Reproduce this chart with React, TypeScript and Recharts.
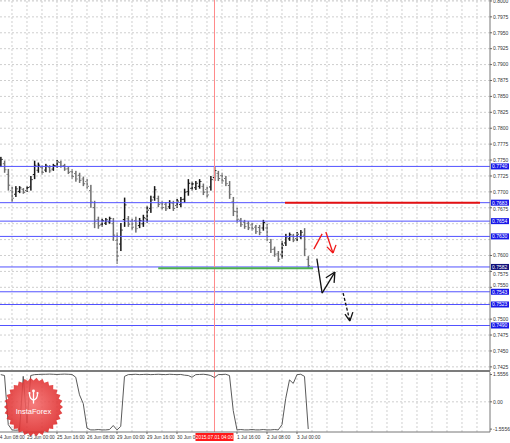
import React from 'react';
import { ComposedChart, Bar, Line, XAxis, YAxis, CartesianGrid, ReferenceLine } from 'recharts';

// H2 bars, 24 Jun 10:00 .. 3 Jul 06:00 (index 0..82)
const highs = [
  0.7755, 0.7749, 0.7736, 0.7708, 0.7709, 0.7709, 0.7706, 0.7709, 0.7725, 0.7749,
  0.7746, 0.7742, 0.7744, 0.7742, 0.7744, 0.7750, 0.7749, 0.7744, 0.7739, 0.7736,
  0.7733, 0.7730, 0.7724, 0.7720, 0.7711, 0.7686, 0.7661, 0.7658, 0.7659, 0.7661,
  0.7659, 0.7636, 0.7651, 0.7691, 0.7662, 0.7658, 0.7661, 0.7659, 0.7664, 0.7678,
  0.7694, 0.7709, 0.7694, 0.7686, 0.7684, 0.7687, 0.7686, 0.7689, 0.7692, 0.7705,
  0.7720, 0.7716, 0.7717, 0.7720, 0.7713, 0.7708, 0.7725, 0.7739, 0.7733, 0.7730,
  0.7725, 0.7717, 0.7692, 0.7675, 0.7659, 0.7656, 0.7654, 0.7651, 0.7648, 0.7648,
  0.7656, 0.7650, 0.7626, 0.7614, 0.7607, 0.7623, 0.7634, 0.7636, 0.7634, 0.7637,
  0.7640, 0.7643, 0.7599,
];
const lows = [
  0.7739, 0.7730, 0.7702, 0.7684, 0.7692, 0.7698, 0.7697, 0.7700, 0.7702, 0.7720,
  0.7730, 0.7727, 0.7731, 0.7730, 0.7733, 0.7738, 0.7738, 0.7733, 0.7728, 0.7720,
  0.7716, 0.7714, 0.7709, 0.7705, 0.7675, 0.7643, 0.7642, 0.7645, 0.7648, 0.7650,
  0.7623, 0.7587, 0.7607, 0.7645, 0.7645, 0.7640, 0.7636, 0.7643, 0.7645, 0.7651,
  0.7667, 0.7686, 0.7676, 0.7672, 0.7670, 0.7673, 0.7670, 0.7675, 0.7676, 0.7683,
  0.7694, 0.7702, 0.7703, 0.7705, 0.7695, 0.7691, 0.7702, 0.7717, 0.7717, 0.7713,
  0.7709, 0.7689, 0.7662, 0.7651, 0.7645, 0.7642, 0.7640, 0.7639, 0.7634, 0.7632,
  0.7639, 0.7623, 0.7604, 0.7598, 0.7590, 0.7595, 0.7615, 0.7623, 0.7621, 0.7623,
  0.7626, 0.7599, 0.7579,
];
const oscillator = [
  1.55, 1.5, -1.3, -1.6, -1.62, -1.6, 1.45, -1.2, 1.5, 1.55,
  1.56, 1.57, 1.57, 1.58, 1.57, 1.56, 1.57, 1.58, 1.57, 1.56,
  1.4, 0.4, -0.1, -1.5, -1.6, -1.6, -1.58, -1.6, -1.6, -1.58,
  -1.35, -1.6, -1.4, 1.45, 1.55, 1.56, 1.57, 1.55, 1.56, 1.57,
  1.55, 1.56, 1.57, 1.56, 1.55, 1.57, 1.56, 1.55, 1.56, 1.52,
  1.5, 1.4, 1.55, 1.56, 1.57, 1.55, 1.5, 1.38, 1.55, 1.56,
  1.57, 1.5, -0.5, -1.6, -1.58, -1.6, -1.6, -1.58, -1.6, -1.6,
  -1.58, -1.6, -1.6, -1.58, -1.6, -1.3, 0.2, 1.25, 1.05, 1.55,
  1.57, 1.45, -1.55,
];

const priceTicks = [
  0.8, 0.7975, 0.795, 0.7925, 0.79, 0.7875, 0.785, 0.7825, 0.78, 0.7775, 0.775, 0.7725,
  0.77, 0.7675, 0.765, 0.7625, 0.76, 0.7575, 0.755, 0.7525, 0.75, 0.7475, 0.745, 0.7425,
];
const hiddenPriceLabels = ['0.7650', '0.7625', '0.7525'];
// small nudges MT4 applies so labels do not sit under the level boxes
const labelNudge: Record<string, number> = { '0.7675': 1.5, '0.7575': 2.5, '0.7550': -2 };
const levels = [0.774, 0.7683, 0.7654, 0.763, 0.7582, 0.7543, 0.7523, 0.749];
const darkLevel = 0.7582;

const timeIdx = [-1, 7, 15, 23, 31, 39, 47, 63, 71, 79];
const timeText = [
  '24 Jun 08:00', '25 Jun 00:00', '25 Jun 16:00', '26 Jun 08:00', '29 Jun 00:00',
  '29 Jun 16:00', '30 Jun 08:00', '1 Jul 16:00', '2 Jul 08:00', '3 Jul 00:00',
];
const gridIdx = [3, 7, 11, 15, 19, 23, 27, 31, 35, 39, 43, 47, 51, 55, 59, 63, 67, 71, 75, 79, 83, 87, 91, 95, 99, 103, 107, 111, 115, 119, 123, 127];
const cursorIdx = 57;
const cursorText = '2015.07.01 04:00';

// annotations [x1, y1, x2, y2]
const resistanceLine = [75.8, 0.7683, 127.8, 0.7683];
const supportLine = [42, 0.758, 83.3, 0.758];
const redArrows = [
  [83.5, 0.7610, 85.7, 0.7634],
  [86.7, 0.7637, 88.6, 0.7604],
  [88.6, 0.7604, 87.0, 0.76135],
  [88.6, 0.7604, 89.4, 0.76167],
];
const blackArrows = [
  [84.3, 0.7595, 85.7, 0.7541],
  [85.7, 0.7541, 89.1, 0.7574],
  [89.1, 0.7574, 86.7, 0.7565],
  [89.1, 0.7574, 88.9, 0.7557],
];
const dashedArrows = [
  [91.3, 0.7541, 93.1, 0.7497],
  [93.1, 0.7497, 91.8, 0.7508],
  [93.1, 0.7497, 93.9, 0.7511],
];

const X_DOMAIN: [number, number] = [-0.2, 130.47];
const FONT = 'Liberation Sans, Arial, sans-serif';

const data = highs.map((h, i) => {
  const mid = (h + lows[i]) / 2;
  const prevMid = i > 0 ? (highs[i - 1] + lows[i - 1]) / 2 : mid;
  return { i, range: [lows[i], h], up: mid >= prevMid, osc: oscillator[i] };
});

const CandleShape = (props: any) => {
  const { x, y, width, height, payload } = props;
  if (height == null || isNaN(y)) return null;
  const cx = x + width / 2;
  const h = Math.max(1, height);
  const color = payload.up ? '#151515' : '#6f6f6f';
  // OHLC style bar: stem plus open/close ticks
  const openY = payload.up ? y + h * 0.75 : y + h * 0.25;
  const closeY = payload.up ? y + h * 0.25 : y + h * 0.75;
  return (
    <g>
      <rect x={cx - 0.75} y={y} width={1.5} height={h} fill={color} />
      <rect x={cx - 1.8} y={openY - 0.5} width={1.2} height={1} fill={color} />
      <rect x={cx + 0.6} y={closeY - 0.5} width={1.2} height={1} fill={color} />
    </g>
  );
};

const PriceTick = (props: any) => {
  const { y, payload } = props;
  const label = Number(payload.value).toFixed(4);
  if (hiddenPriceLabels.includes(label)) return null;
  const ty = y + (labelNudge[label] || 0);
  return (
    <g>
      <line x1={490} x2={492} y1={y} y2={y} stroke="#666" />
      <text x={493} y={ty + 1.8} fontSize={5} fill="#333" fontFamily={FONT}>
        {label}
      </text>
    </g>
  );
};

const OscTick = (props: any) => {
  const { y, payload } = props;
  const v = Number(payload.value);
  const label = v === 0 ? '0.00' : v.toFixed(4);
  return (
    <g>
      <line x1={490} x2={492} y1={y} y2={y} stroke="#666" />
      <text x={493} y={y + 1.8} fontSize={5} fill="#333" fontFamily={FONT}>
        {label}
      </text>
    </g>
  );
};

const TimeTick = (props: any) => {
  const { x, payload } = props;
  const axisY = 61;
  if (payload.value === cursorIdx) {
    // the cursor date box sits on the time scale and covers labels beneath it
    return (
      <g>
        <rect x={x - 19} y={axisY + 1} width={38} height={8} fill="#ff1a1a" />
        <text x={x} y={axisY + 6.8} fontSize={4.8} fill="#fff" textAnchor="middle" fontFamily={FONT}>
          {cursorText}
        </text>
      </g>
    );
  }
  const k = timeIdx.indexOf(payload.value);
  if (k < 0) return null;
  return (
    <g>
      <line x1={x} x2={x} y1={axisY} y2={axisY + 2} stroke="#666" />
      <text x={x} y={axisY + 7} fontSize={4.8} fill="#333" fontFamily={FONT}>
        {timeText[k]}
      </text>
    </g>
  );
};

const levelBox = (value: number) => (props: any) => {
  const vb = props.viewBox || {};
  const y = vb.y;
  const dark = value === darkLevel;
  return (
    <g>
      <rect x={491} y={y - 3} width={18} height={6} fill={dark ? '#10107a' : '#1818e8'} />
      <text x={492} y={y + 1.9} fontSize={5} fill="#fff" fontFamily={FONT}>
        {value.toFixed(4)}
      </text>
    </g>
  );
};

const seg = (s: number[]) => [
  { x: s[0], y: s[1] },
  { x: s[2], y: s[3] },
] as any;

const Logo = () => {
  const cx = 33.5;
  const cy = 407;
  const pts: string[] = [];
  const teeth = 30;
  for (let k = 0; k < teeth * 2; k++) {
    const r = k % 2 === 0 ? 29.5 : 26.5;
    const a = (Math.PI * k) / teeth;
    pts.push(`${(cx + r * Math.cos(a)).toFixed(2)},${(cy + r * Math.sin(a)).toFixed(2)}`);
  }
  return (
    <svg width={510} height={443} style={{ position: 'absolute', left: 0, top: 0, pointerEvents: 'none' }}>
      <defs>
        <radialGradient id="logoGrad" cx="50%" cy="45%" r="55%">
          <stop offset="0%" stopColor="#f46a6a" />
          <stop offset="100%" stopColor="#dc2525" />
        </radialGradient>
      </defs>
      <polygon points={pts.join(' ')} fill="url(#logoGrad)" opacity={0.88} />
      <g stroke="#fff" strokeWidth={1.3} fill="none" strokeLinecap="round">
        <line x1={cx} y1={392} x2={cx} y2={403} />
        <path d={`M${cx - 4},394 Q${cx - 4},399 ${cx},400`} />
        <path d={`M${cx + 4},394 Q${cx + 4},399 ${cx},400`} />
      </g>
      <circle cx={cx} cy={391} r={1.4} fill="#fff" />
      <circle cx={cx - 4} cy={393} r={1.1} fill="#fff" />
      <circle cx={cx + 4} cy={393} r={1.1} fill="#fff" />
      <text x={cx} y={414} fontSize={7.5} fill="#fff" textAnchor="middle" fontFamily={FONT}>
        InstaForex
      </text>
    </svg>
  );
};

const App: React.FC = () => {
  return (
    <div style={{ position: 'absolute', left: 0, top: 0, width: 510, height: 443, background: '#fff', overflow: 'hidden' }}>
      <ComposedChart width={510} height={371} data={data} margin={{ top: 0, right: 0, bottom: 0, left: 0 }}>
        <CartesianGrid vertical={false} stroke="#cfcfcf" strokeDasharray="2 2" />
        {gridIdx.map((g) => (
          <ReferenceLine key={`vg-${g}`} x={g} stroke="#cfcfcf" strokeDasharray="2 2" />
        ))}
        <XAxis type="number" dataKey="i" domain={X_DOMAIN} hide allowDataOverflow />
        <YAxis
          orientation="right"
          width={20}
          domain={[0.74185, 0.80015]}
          ticks={priceTicks}
          interval={0}
          allowDataOverflow
          axisLine={{ stroke: '#777' }}
          tickLine={false}
          tick={<PriceTick />}
        />
        {levels.map((v) => (
          <ReferenceLine key={`lv-${v}`} y={v} stroke="#5252ff" label={levelBox(v)} />
        ))}
        <ReferenceLine x={cursorIdx} stroke="#ff8a8a" />
        <ReferenceLine segment={seg(resistanceLine)} stroke="#e41010" strokeWidth={2} ifOverflow="visible" />
        <ReferenceLine segment={seg(supportLine)} stroke="#4cb050" strokeWidth={2} ifOverflow="visible" />
        <Bar dataKey="range" barSize={2} shape={<CandleShape />} isAnimationActive={false} />
        {redArrows.map((s, k) => (
          <ReferenceLine key={`ra-${k}`} segment={seg(s)} stroke="#f01818" strokeWidth={1.3} ifOverflow="visible" />
        ))}
        {blackArrows.map((s, k) => (
          <ReferenceLine key={`ba-${k}`} segment={seg(s)} stroke="#111" strokeWidth={1.3} ifOverflow="visible" />
        ))}
        {dashedArrows.map((s, k) => (
          <ReferenceLine
            key={`da-${k}`}
            segment={seg(s)}
            stroke="#111"
            strokeWidth={1.3}
            strokeDasharray={k === 0 ? '3 2' : undefined}
            ifOverflow="visible"
          />
        ))}
      </ComposedChart>
      <div style={{ position: 'absolute', left: 0, top: 370, width: 490, height: 2, background: '#7c7c7c' }} />
      <div style={{ position: 'absolute', left: 0, top: 371 }}>
        <ComposedChart width={510} height={72} data={data} margin={{ top: 1, right: 0, bottom: 0, left: 0 }}>
          {gridIdx.map((g) => (
            <ReferenceLine key={`og-${g}`} x={g} stroke="#cfcfcf" strokeDasharray="2 2" />
          ))}
          <ReferenceLine y={0} stroke="#cfcfcf" strokeDasharray="2 2" />
          <XAxis
            type="number"
            dataKey="i"
            domain={X_DOMAIN}
            ticks={[...timeIdx, cursorIdx]}
            interval={0}
            allowDataOverflow
            height={11}
            axisLine={{ stroke: '#777' }}
            tickLine={false}
            tickSize={0}
            tickMargin={0}
            tick={<TimeTick />}
          />
          <YAxis
            orientation="right"
            width={20}
            domain={[-1.72, 1.7]}
            ticks={[1.5556, 0, -1.5556]}
            interval={0}
            allowDataOverflow
            axisLine={{ stroke: '#777' }}
            tickLine={false}
            tick={<OscTick />}
          />
          <ReferenceLine x={cursorIdx} stroke="#ff8a8a" />
          <Line dataKey="osc" type="linear" stroke="#5a5a5a" strokeWidth={1} dot={false} isAnimationActive={false} />
        </ComposedChart>
      </div>
      <Logo />
    </div>
  );
};

export default App;
